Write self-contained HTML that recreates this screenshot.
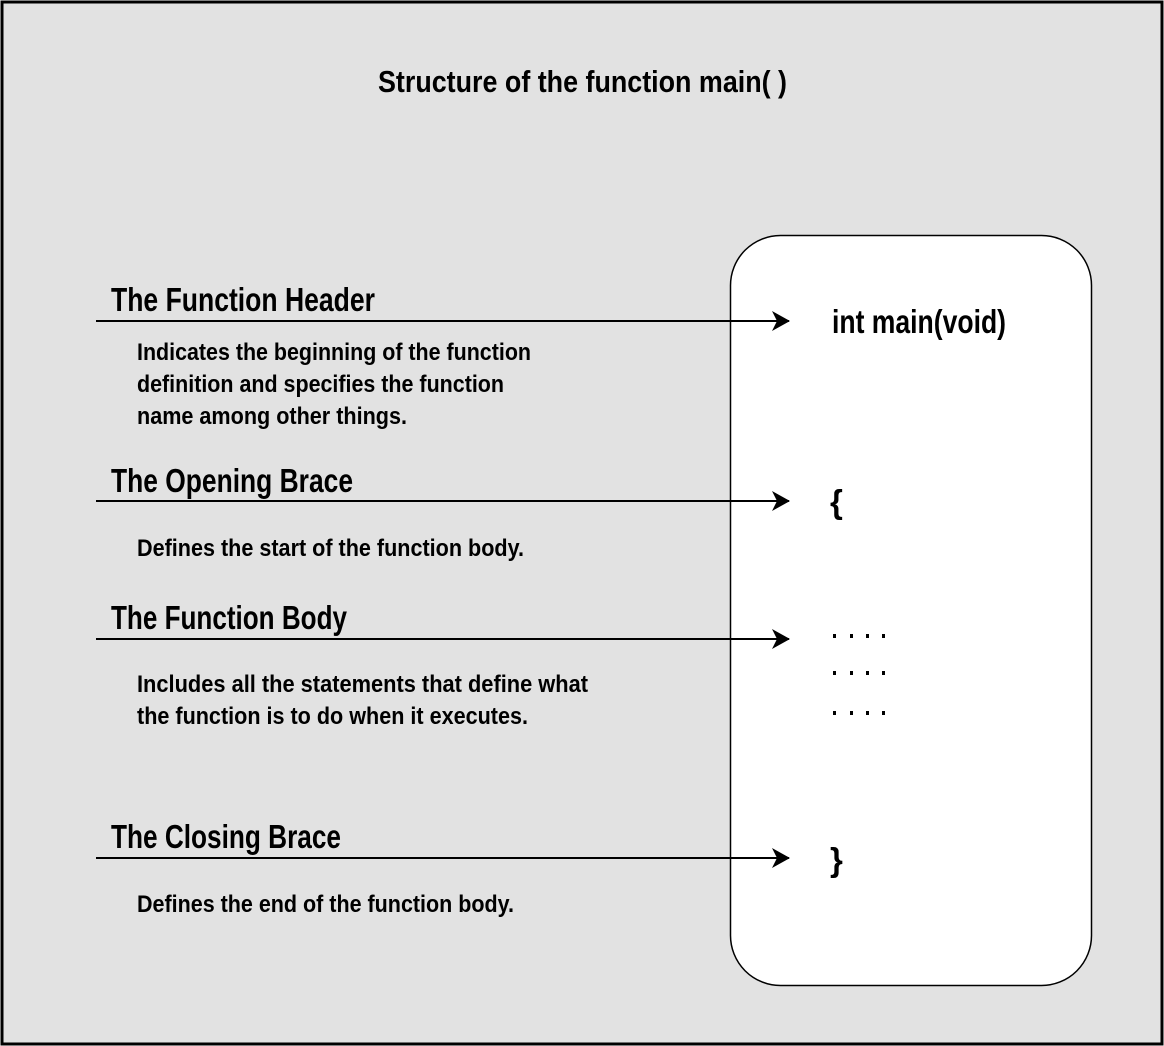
<!DOCTYPE html>
<html><head><meta charset="utf-8"><style>
html,body{margin:0;padding:0;background:#fff;}
svg{display:block;}
text{font-family:"Liberation Sans Narrow","Liberation Sans",sans-serif;fill:#000;font-weight:bold;}
</style></head><body>
<svg width="1164" height="1046" viewBox="0 0 1164 1046" xmlns="http://www.w3.org/2000/svg">
<defs><marker id="a" markerWidth="18" markerHeight="20" refX="17" refY="10" orient="auto" markerUnits="userSpaceOnUse"><path d="M0,0 L18,10 L0,20 L5,10 Z" fill="#000"/></marker></defs>
<rect x="2" y="2" width="1160" height="1042" fill="#e2e2e2" stroke="#000" stroke-width="3"/>
<rect x="730.5" y="235.5" width="361" height="750" rx="50" fill="#fff" stroke="#000" stroke-width="1.5"/>
<text x="378" y="92" font-size="31" textLength="409" lengthAdjust="spacingAndGlyphs">Structure of the function main( )</text>

<g stroke="#000" stroke-width="2" marker-end="url(#a)">
<line x1="96" y1="321" x2="789" y2="321"/>
<line x1="96" y1="501" x2="789" y2="501"/>
<line x1="96" y1="639" x2="789" y2="639"/>
<line x1="96" y1="858" x2="789" y2="858"/>
</g>

<g font-size="33">
<text x="111" y="311" textLength="264" lengthAdjust="spacingAndGlyphs">The Function Header</text>
<text x="111" y="492" textLength="242" lengthAdjust="spacingAndGlyphs">The Opening Brace</text>
<text x="111" y="629" textLength="236" lengthAdjust="spacingAndGlyphs">The Function Body</text>
<text x="111" y="848" textLength="230" lengthAdjust="spacingAndGlyphs">The Closing Brace</text>
<text x="832" y="333" textLength="174" lengthAdjust="spacingAndGlyphs">int main(void)</text>
<text x="830" y="513">{</text>
<text x="830" y="871">}</text>
</g>
<g font-size="24">
<text x="137" y="360" textLength="394" lengthAdjust="spacingAndGlyphs">Indicates the beginning of the function</text>
<text x="137" y="392" textLength="367" lengthAdjust="spacingAndGlyphs">definition and specifies the function</text>
<text x="137" y="424" textLength="270" lengthAdjust="spacingAndGlyphs">name among other things.</text>
<text x="137" y="556" textLength="387" lengthAdjust="spacingAndGlyphs">Defines the start of the function body.</text>
<text x="137" y="692" textLength="451" lengthAdjust="spacingAndGlyphs">Includes all the statements that define what</text>
<text x="137" y="724" textLength="391" lengthAdjust="spacingAndGlyphs">the function is to do when it executes.</text>
<text x="137" y="912" textLength="377" lengthAdjust="spacingAndGlyphs">Defines the end of the function body.</text>
</g>
<g fill="#000">
<rect x="833" y="634" width="3" height="4"/><rect x="850" y="634" width="3" height="4"/><rect x="866" y="634" width="3" height="4"/><rect x="882" y="634" width="3" height="4"/>
<rect x="833" y="671" width="3" height="4"/><rect x="850" y="671" width="3" height="4"/><rect x="866" y="671" width="3" height="4"/><rect x="882" y="671" width="3" height="4"/>
<rect x="833" y="711" width="3" height="4"/><rect x="850" y="711" width="3" height="4"/><rect x="866" y="711" width="3" height="4"/><rect x="882" y="711" width="3" height="4"/>
</g>
</svg>
</body></html>
